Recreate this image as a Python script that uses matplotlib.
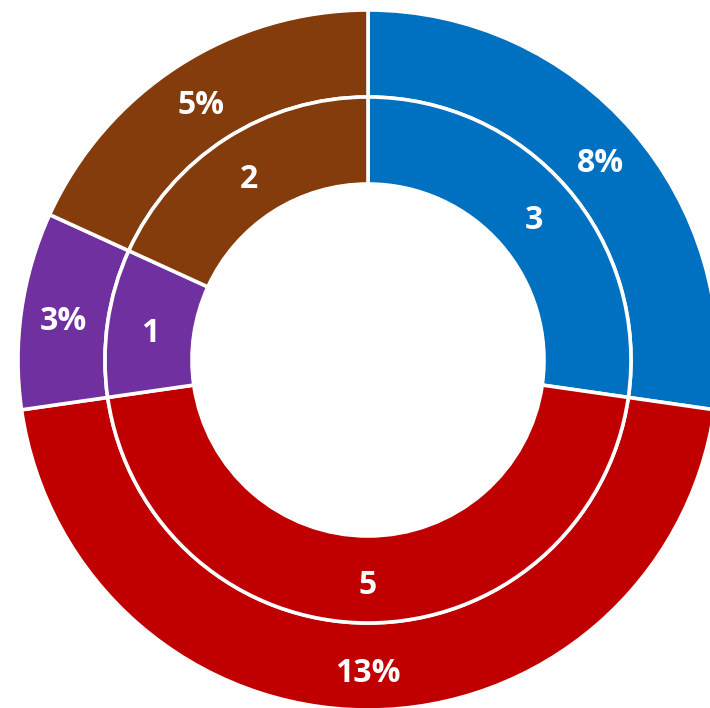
import numpy as np
import matplotlib.pyplot as plt

# counts per group, and each group's share of all 38 responses
groups = ["A", "B", "C", "D"]
counts = [3, 5, 1, 2]
total_responses = 38
share = [c / total_responses for c in counts]
colors = ["#0070C0", "#C00000", "#7030A0", "#843C0C"]

fig = plt.figure(figsize=(7.10, 7.08), dpi=100)
ax = fig.add_axes([0, 0, 1, 1])

R_out, R_mid, R_in = 350, 263, 176
wedge_kw = dict(edgecolor="white", linewidth=2.6)

outer, _ = ax.pie(share, radius=R_out, colors=colors, startangle=90,
                  counterclock=False, normalize=True,
                  wedgeprops=dict(width=R_out - R_mid, **wedge_kw))
inner, _ = ax.pie(counts, radius=R_mid, colors=colors, startangle=90,
                  counterclock=False,
                  wedgeprops=dict(width=R_mid - R_in, **wedge_kw))

txt = dict(color="white", fontsize=23, fontweight="bold",
           family=["Open Sans", "DejaVu Sans"], ha="center", va="center")

def label_ring(wedges, r, texts):
    for w, t in zip(wedges, texts):
        ang = np.deg2rad((w.theta1 + w.theta2) / 2)
        # nudge down a little so the digits, not the line box, sit mid-ring
        ax.text(r * np.cos(ang), r * np.sin(ang) - 5, t, **txt)

label_ring(outer, 308, [f"{round(s * 100)}%" for s in share])
label_ring(inner, 220, [str(c) for c in counts])

ax.set_xlim(-368, 342)
ax.set_ylim(-348, 360)
ax.set_aspect("equal")
ax.axis("off")

fig.savefig("out.png", dpi=100, facecolor="white")
